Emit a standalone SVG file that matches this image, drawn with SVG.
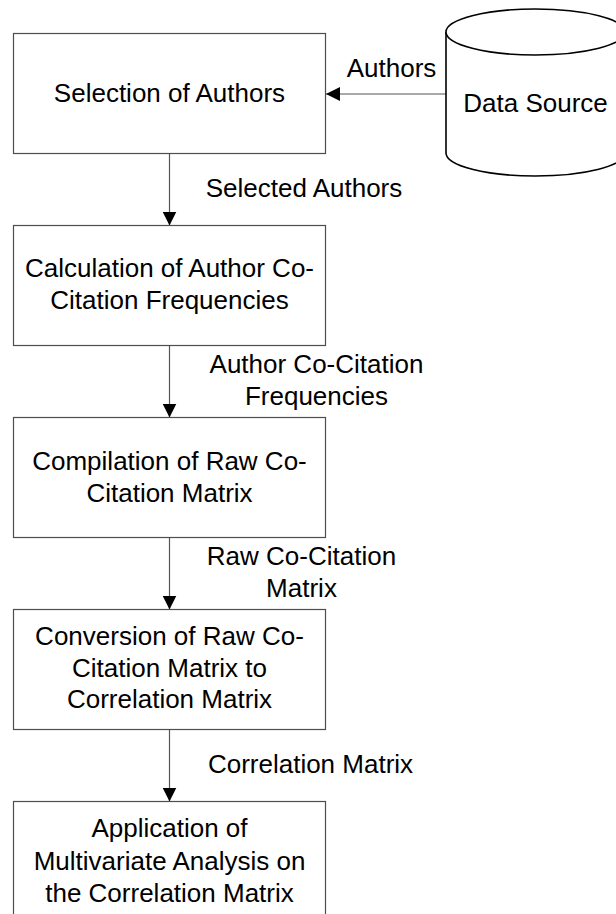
<svg xmlns="http://www.w3.org/2000/svg" width="616" height="914" viewBox="0 0 616 914">
  <style>
    .box { fill: #ffffff; stroke: #4d4d4d; stroke-width: 1.2; }
    .db { fill: #ffffff; stroke: #000000; stroke-width: 1.6; }
    .edge { fill: none; stroke: #555555; stroke-width: 1.2; }
    text { font-family: "Liberation Sans", Arial, sans-serif; font-size: 26px; fill: #000000; text-anchor: middle; }
  </style>
  <defs>
    <marker id="arrow" viewBox="0 0 14 14" refX="14" refY="7" markerWidth="14" markerHeight="14" markerUnits="userSpaceOnUse" orient="auto">
      <path d="M0,0 L14,7 L0,14 Z" fill="#000000"/>
    </marker>
  </defs>
  <rect width="616" height="914" fill="#ffffff"/>

  <!-- connectors -->
  <g id="connectors">
    <line class="edge" x1="446" y1="94" x2="326" y2="94" marker-end="url(#arrow)"/>
    <text x="391.5" y="77">Authors</text>
    <line class="edge" x1="169.5" y1="153.5" x2="169.5" y2="225.5" marker-end="url(#arrow)"/>
    <text x="304" y="197">Selected Authors</text>
    <line class="edge" x1="169.5" y1="345.5" x2="169.5" y2="417.5" marker-end="url(#arrow)"/>
    <text x="316.5" y="373">Author Co-Citation</text>
    <text x="316.5" y="404.5">Frequencies</text>
    <line class="edge" x1="169.5" y1="537.5" x2="169.5" y2="609.5" marker-end="url(#arrow)"/>
    <text x="301.5" y="565">Raw Co-Citation</text>
    <text x="301.5" y="596.5">Matrix</text>
    <line class="edge" x1="169.5" y1="729.5" x2="169.5" y2="801.5" marker-end="url(#arrow)"/>
    <text x="310.5" y="773">Correlation Matrix</text>
  </g>

  <!-- data source cylinder -->
  <g id="data-source">
    <path class="db" d="M446,32 L446,153 A89.5,23 0 0 0 625,153 L625,32 A89.5,23 0 0 0 446,32 Z"/>
    <path class="db" d="M446,32 A89.5,23 0 0 0 625,32"/>
    <text x="535.5" y="111.5">Data Source</text>
  </g>

  <g id="selection">
    <rect class="box" x="13.5" y="33.5" width="312" height="120"/>
    <text x="169.5" y="101.5">Selection of Authors</text>
  </g>

  <g id="calculation">
    <rect class="box" x="13.5" y="225.5" width="312" height="120"/>
    <text x="169.5" y="277">Calculation of Author Co-</text>
    <text x="169.5" y="308.5">Citation Frequencies</text>
  </g>

  <g id="compilation">
    <rect class="box" x="13.5" y="417.5" width="312" height="120"/>
    <text x="169.5" y="470">Compilation of Raw Co-</text>
    <text x="169.5" y="501.5">Citation Matrix</text>
  </g>

  <g id="conversion">
    <rect class="box" x="13.5" y="609.5" width="312" height="120"/>
    <text x="169.5" y="645">Conversion of Raw Co-</text>
    <text x="169.5" y="676.5">Citation Matrix to</text>
    <text x="169.5" y="708">Correlation Matrix</text>
  </g>

  <g id="application">
    <rect class="box" x="13.5" y="801.5" width="312" height="120"/>
    <text x="169.5" y="837">Application of</text>
    <text x="169.5" y="869.5">Multivariate Analysis on</text>
    <text x="169.5" y="901.5">the Correlation Matrix</text>
  </g>
</svg>
